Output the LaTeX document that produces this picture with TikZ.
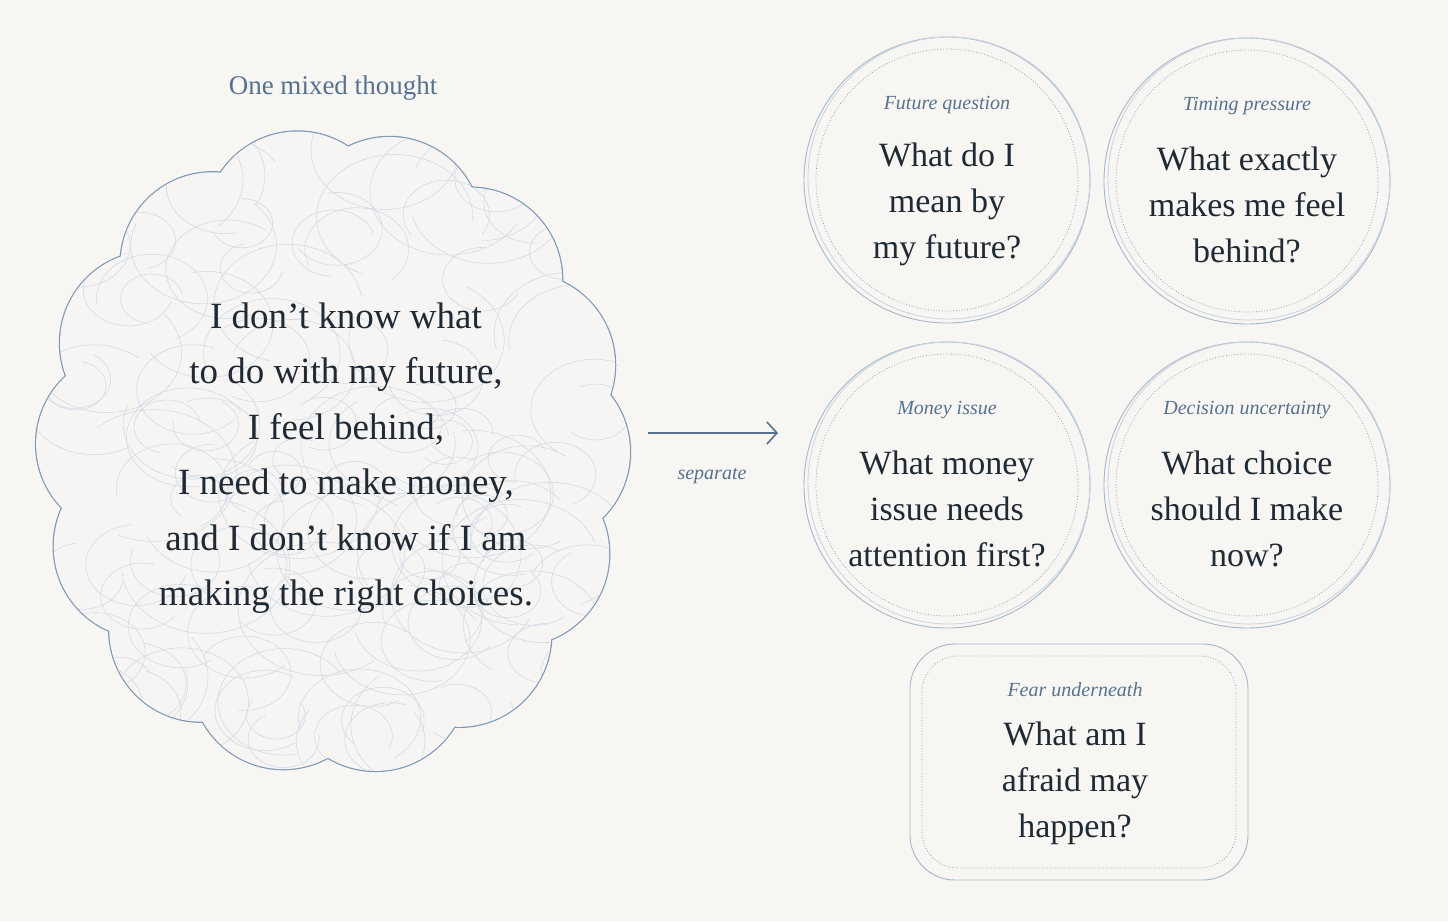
\documentclass[tikz,border=0pt]{standalone}
\usepackage{fontspec}
\setmainfont{Liberation Serif}
\usetikzlibrary{arrows.meta}
\definecolor{bg}{HTML}{F8F6F3}
\definecolor{edge}{HTML}{7E98B5}
\definecolor{lab}{HTML}{56728F}
\definecolor{ink}{HTML}{1F2A35}
\definecolor{cfill}{HTML}{F6F5F4}
\tikzset{
  lbl/.style={font=\itshape\fontsize{20}{24}\selectfont,text=lab},
  qst/.style={font=\fontsize{34}{46}\selectfont,text=ink,align=center},
  ring/.style={draw=edge!70,line width=0.9pt},
  inring/.style={draw=edge!90,dotted,line width=0.8pt},
}
\begin{document}
\begin{tikzpicture}[x=1pt,y=-1pt]
\fill[bg] (0,0) rectangle (1448,921);
\useasboundingbox (0,0) rectangle (1448,921);
% cloud
\def\cloudshape{%
  \foreach \ang in {0,26,...,359}{ (333+205*cos \ang,452+232*sin \ang) circle[radius=92] }
  (333,452) circle[radius=240]}
\foreach \ang in {0,26,...,359}{\fill[edge] (333+205*cos \ang,452+232*sin \ang) circle[radius=93.2];}
\foreach \ang in {0,26,...,359}{\fill[cfill] (333+205*cos \ang,452+232*sin \ang) circle[radius=92];}
\fill[cfill] (333,452) circle[radius=240];
\begin{scope}
\clip \cloudshape;
\pgfmathsetseed{7}
\foreach \i in {1,...,140}{
  \pgfmathsetmacro\cx{333+rand*270}
  \pgfmathsetmacro\cy{452+rand*300}
  \pgfmathsetmacro\rr{25+rnd*60}
  \pgfmathsetmacro\sa{rnd*360}
  \draw[edge!35,line width=0.6pt] (\cx,\cy) ++(\sa:\rr) arc[start angle=\sa, delta angle=250, x radius=\rr, y radius=\rr*0.8];
}
\end{scope}
\node[qst,font=\fontsize{37}{55.5}\selectfont] (cloud) at (346,458) {I don’t know what\\to do with my future,\\I feel behind,\\I need to make money,\\and I don’t know if I am\\making the right choices.};
\node[font=\fontsize{27}{30}\selectfont,text=lab] (title) at (333,88) {One mixed thought};
% arrow
\coordinate (a1) at (648,433);
\coordinate (a2) at (778,433);
\draw[lab,line width=1.6pt,-{Straight Barb[length=10pt,width=22pt]}] (a1) -- (a2);
\node[lbl] (sep) at (712,476) {separate};
% circles
\foreach \n/\x/\y/\l/\q in {c1/947/180/Future question/{What do I\\mean by\\my future?},
  c2/1247/181/Timing pressure/{What exactly\\makes me feel\\behind?},
  c3/947/485/Money issue/{What money\\issue needs\\attention first?},
  c4/1247/485/Decision uncertainty/{What choice\\should I make\\now?}}{
  \draw[ring] (\x,\y) circle[radius=143];
  \draw[ring,draw=edge!40] (\x+2,\y-2) circle[radius=141];
  \draw[inring] (\x,\y) circle[radius=131];
  \node[lbl] (\n l) at (\x,\y-75) {\l};
  \node[qst] (\n q) at (\x,\y+24) {\q};
}
% box
\draw[ring,rounded corners=45pt] (910,644) rectangle (1248,880);
\draw[inring,rounded corners=36pt] (922,656) rectangle (1236,868);
\node[lbl] (bl) at (1075,690) {Fear underneath};
\node[qst] (bq) at (1075,783) {What am I\\afraid may\\happen?};
\end{tikzpicture}
\end{document}
